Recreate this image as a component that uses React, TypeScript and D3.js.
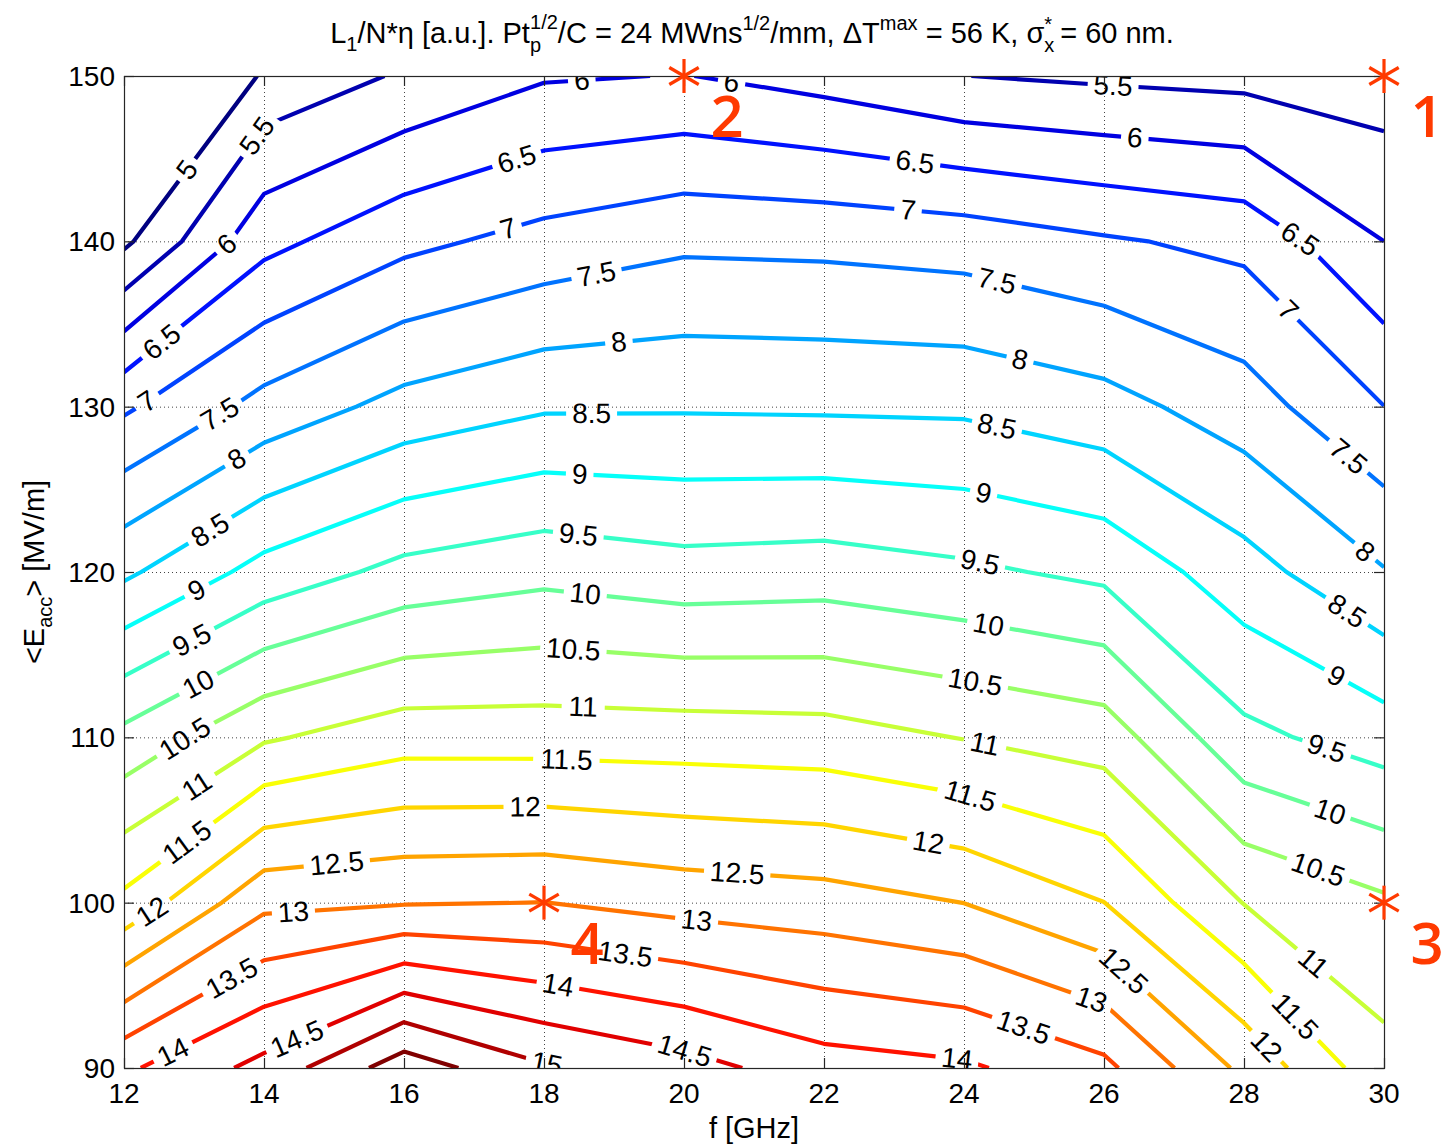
import React from 'react';
import * as d3 from 'd3';

type Pt = [number, number];

// ---------- data ----------
const freqGHz = [12, 14, 16, 18, 20, 22, 24, 26, 28, 30];
const fieldMVm = [90, 100, 110, 120, 130, 140, 150];
// L1/N*eta values on the (f, <Eacc>) grid, one array per field row
const zAt90 = [13.91, 14.66, 15.78, 15.06, 14.7, 14.22, 14.08, 13.63, 12.38, 11.16];
const zAt100 = [11.625, 12.88, 12.965, 13.005, 12.815, 12.715, 12.495, 12.005, 10.985, 10.58];
const zAt110 = [10.145, 10.935, 11.285, 11.275, 11.25, 11.205, 10.98, 10.77, 9.63, 9.26];
const zAt120 = [8.405, 9.18, 9.65, 9.85, 9.695, 9.75, 9.595, 9.385, 8.705, 8.03];
const zAt130 = [6.92, 7.67, 8.17, 8.44, 8.45, 8.43, 8.41, 8.19, 7.735, 7.005];
const zAt140 = [4.9, 6.35, 6.87, 7.17, 7.4, 7.37, 7.28, 7.06, 6.87, 6.0];
const zAt150 = [2.5, 5.13, 5.56, 5.95, 6.016, 5.8, 5.505, 5.41, 5.34, 5.25];

const contourLevels = [5, 5.5, 6, 6.5, 7, 7.5, 8, 8.5, 9, 9.5, 10, 10.5, 11, 11.5, 12, 12.5, 13, 13.5, 14, 14.5, 15, 15.5];

// inline labels: level and frequency where the label sits on that contour
const labelLevels = [
  5, 5.5, 5.5, 6, 6, 6, 6, 6.5, 6.5, 6.5, 6.5, 7, 7, 7, 7, 7.5, 7.5, 7.5, 7.5,
  8, 8, 8, 8, 8.5, 8.5, 8.5, 8.5, 9, 9, 9, 9, 9.5, 9.5, 9.5, 9.5, 10, 10, 10, 10,
  10.5, 10.5, 10.5, 10.5, 11, 11, 11, 11, 11.5, 11.5, 11.5, 11.5, 12, 12, 12, 12,
  12.5, 12.5, 12.5, 13, 13, 13, 13.5, 13.5, 13.5, 14, 14, 14, 14.5, 14.5, 15,
];
const labelFreqs = [
  12.9, 13.9, 26.13, 13.47, 18.54, 20.68, 26.44, 12.54, 17.61, 23.3, 28.8, 12.33, 17.49, 23.2, 28.63, 13.37, 18.75, 24.47, 29.49,
  13.61, 19.07, 24.8, 29.73, 13.23, 18.68, 24.47, 29.47, 13.04, 18.51, 24.28, 29.32, 12.97, 18.49, 24.23, 29.18, 13.06, 18.59, 24.35, 29.23,
  12.87, 18.42, 24.16, 29.06, 13.04, 18.56, 24.3, 28.99, 12.9, 18.32, 24.09, 28.73, 12.4, 17.73, 23.49, 28.32,
  15.04, 20.76, 26.28, 14.42, 20.18, 25.82, 13.54, 19.16, 24.85, 12.7, 18.2, 23.9, 14.47, 20.01, 18.04,
];

const xTicks = [12, 14, 16, 18, 20, 22, 24, 26, 28, 30];
const yTicks = [90, 100, 110, 120, 130, 140, 150];

const markerFreqs = [30, 20, 30, 18];
const markerFields = [150, 150, 100, 100];
const markerNames = ['1', '2', '3', '4'];

const zGrid = [zAt90, zAt100, zAt110, zAt120, zAt130, zAt140, zAt150];

// ---------- contouring (marching squares, linear interpolation) ----------
function traceContour(level: number): Pt[][] {
  const nx = freqGHz.length;
  const ny = fieldMVm.length;
  const pts = new Map<string, Pt>();
  const adj = new Map<string, string[]>();
  const link = (a: string, b: string) => {
    if (!adj.has(a)) adj.set(a, []);
    if (!adj.has(b)) adj.set(b, []);
    adj.get(a)!.push(b);
    adj.get(b)!.push(a);
  };
  const cross = (key: string, fa: number, ea: number, za: number, fb: number, eb: number, zb: number) => {
    if ((za >= level) === (zb >= level)) return false;
    const t = (level - za) / (zb - za);
    pts.set(key, [fa + t * (fb - fa), ea + t * (eb - ea)]);
    return true;
  };
  for (let j = 0; j < ny - 1; j++) {
    for (let i = 0; i < nx - 1; i++) {
      const f0 = freqGHz[i], f1 = freqGHz[i + 1], e0 = fieldMVm[j], e1 = fieldMVm[j + 1];
      const z00 = zGrid[j][i], z10 = zGrid[j][i + 1], z11 = zGrid[j + 1][i + 1], z01 = zGrid[j + 1][i];
      const kB = `h${i}_${j}`, kR = `v${i + 1}_${j}`, kT = `h${i}_${j + 1}`, kL = `v${i}_${j}`;
      const cB = cross(kB, f0, e0, z00, f1, e0, z10);
      const cR = cross(kR, f1, e0, z10, f1, e1, z11);
      const cT = cross(kT, f0, e1, z01, f1, e1, z11);
      const cL = cross(kL, f0, e0, z00, f0, e1, z01);
      const hit: string[] = [];
      if (cB) hit.push(kB);
      if (cR) hit.push(kR);
      if (cT) hit.push(kT);
      if (cL) hit.push(kL);
      if (hit.length === 2) link(hit[0], hit[1]);
      else if (hit.length === 4) {
        const c = (z00 + z10 + z11 + z01) / 4;
        if ((c >= level) === (z00 >= level)) { link(kB, kR); link(kT, kL); }
        else { link(kL, kB); link(kR, kT); }
      }
    }
  }
  const used = new Set<string>();
  const walk = (start: string) => {
    const chain = [start];
    used.add(start);
    let cur = start;
    for (;;) {
      const nxt = (adj.get(cur) || []).find((n) => !used.has(n));
      if (!nxt) break;
      used.add(nxt);
      chain.push(nxt);
      cur = nxt;
    }
    return chain;
  };
  const polys: Pt[][] = [];
  for (const [k, ns] of adj) {
    if (ns.length === 1 && !used.has(k)) polys.push(walk(k).map((q) => pts.get(q)!));
  }
  for (const k of adj.keys()) {
    if (!used.has(k)) {
      const c = walk(k);
      c.push(c[0]);
      polys.push(c.map((q) => pts.get(q)!));
    }
  }
  return polys;
}

function jet(t: number): string {
  const c = (v: number) => Math.max(0, Math.min(1, v));
  const r = c(1.5 - Math.abs(4 * t - 3));
  const g = c(1.5 - Math.abs(4 * t - 2));
  const b = c(1.5 - Math.abs(4 * t - 1));
  return d3.rgb(r * 255, g * 255, b * 255).formatHex();
}

const FONT = '"Liberation Sans", Arial, Helvetica, sans-serif';

function textWidth(s: string, size: number) {
  let w = 0;
  for (const ch of s) w += ch === '.' ? 0.278 : 0.556;
  return w * size;
}

export default function App() {
  const W = 1445, H = 1146;
  const x = d3.scaleLinear().domain([12, 30]).range([124, 1384]);
  const y = d3.scaleLinear().domain([90, 150]).range([1068, 76]);
  const [x0, x1] = x.range();
  const [y0, y1] = [y(150), y(90)];

  const lvMin = contourLevels[0];
  const lvMax = contourLevels[contourLevels.length - 1];
  const contours = contourLevels.map((L) => ({
    L,
    color: jet((L - lvMin) / (lvMax - lvMin)),
    polys: traceContour(L),
  }));
  const byLevel = new Map(contours.map((c) => [c.L, c.polys]));
  const line = d3.line<Pt>().x((d) => x(d[0])).y((d) => y(d[1]));

  const labelSize = 28;
  const labels = labelLevels
    .map((L, k) => {
      const F = labelFreqs[k];
      const polys = byLevel.get(L) || [];
      for (const poly of polys) {
        for (let s = 0; s < poly.length - 1; s++) {
          const [fa, ea] = poly[s];
          const [fb, eb] = poly[s + 1];
          if (fa !== fb && (fa - F) * (fb - F) <= 0) {
            const t = (F - fa) / (fb - fa);
            const E = ea + t * (eb - ea);
            let ang = (Math.atan2(y(eb) - y(ea), x(fb) - x(fa)) * 180) / Math.PI;
            if (ang > 90) ang -= 180;
            if (ang < -90) ang += 180;
            const text = String(L);
            return { key: k, text, px: x(F), py: y(E), ang, w: textWidth(text, labelSize) };
          }
        }
      }
      return null;
    })
    .filter((d) => d !== null) as { key: number; text: string; px: number; py: number; ang: number; w: number }[];

  const starColor = '#ff3a00';
  const starR = 17;
  const starArms = [90, 30, -30];

  return (
    <svg
      width={W}
      height={H}
      viewBox={`0 0 ${W} ${H}`}
      style={{ position: 'absolute', left: 0, top: 0, display: 'block', background: '#fff' }}
      fontFamily={FONT}
    >
      <defs>
        <clipPath id="plotClip">
          <rect x={x0} y={y0} width={x1 - x0} height={y1 - y0} />
        </clipPath>
        <mask id="labelGaps" maskUnits="userSpaceOnUse" x={0} y={0} width={W} height={H}>
          <rect x={0} y={0} width={W} height={H} fill="#fff" />
          {labels.map((d) => (
            <rect
              key={d.key}
              x={-d.w / 2 - 6}
              y={-13}
              width={d.w + 12}
              height={26}
              fill="#000"
              transform={`translate(${d.px},${d.py}) rotate(${d.ang})`}
            />
          ))}
        </mask>
      </defs>
      <rect x={0} y={0} width={W} height={H} fill="#fff" />

      {/* grid */}
      <g stroke="#444" strokeWidth={1} strokeDasharray="1,3">
        {xTicks.slice(1, -1).map((t) => (
          <line key={'gx' + t} x1={x(t) + 0.5} x2={x(t) + 0.5} y1={y0} y2={y1} />
        ))}
        {yTicks.slice(1, -1).map((t) => (
          <line key={'gy' + t} x1={x0} x2={x1} y1={y(t) + 0.5} y2={y(t) + 0.5} />
        ))}
      </g>

      {/* contour lines */}
      <g clipPath="url(#plotClip)">
        <g mask="url(#labelGaps)" fill="none" strokeWidth={4.2} strokeLinejoin="round">
          {contours.map((c) =>
            c.polys.map((p, i) => <path key={c.L + '_' + i} d={line(p) || ''} stroke={c.color} />)
          )}
        </g>
        {labels.map((d) => (
          <text
            key={'t' + d.key}
            transform={`translate(${d.px},${d.py}) rotate(${d.ang})`}
            textAnchor="middle"
            dominantBaseline="central"
            fontSize={labelSize}
            fill="#000"
          >
            {d.text}
          </text>
        ))}
      </g>

      {/* axes box and ticks */}
      <g stroke="#262626" strokeWidth={1.2} fill="none">
        <rect x={x0 + 0.5} y={y0 + 0.5} width={x1 - x0} height={y1 - y0} />
        {xTicks.map((t) => (
          <g key={'tx' + t}>
            <line x1={x(t) + 0.5} x2={x(t) + 0.5} y1={y1} y2={y1 - 10} />
            <line x1={x(t) + 0.5} x2={x(t) + 0.5} y1={y0} y2={y0 + 10} />
          </g>
        ))}
        {yTicks.map((t) => (
          <g key={'ty' + t}>
            <line x1={x0} x2={x0 + 10} y1={y(t) + 0.5} y2={y(t) + 0.5} />
            <line x1={x1} x2={x1 - 10} y1={y(t) + 0.5} y2={y(t) + 0.5} />
          </g>
        ))}
      </g>

      {/* tick labels */}
      <g fontSize={28} fill="#000">
        {xTicks.map((t) => (
          <text key={'lx' + t} x={x(t)} y={y1 + 35} textAnchor="middle">
            {t}
          </text>
        ))}
        {yTicks.map((t) => (
          <text key={'ly' + t} x={x0 - 9} y={y(t) + 10} textAnchor="end">
            {t}
          </text>
        ))}
      </g>

      {/* axis labels */}
      <text x={(x0 + x1) / 2} y={1138} textAnchor="middle" fontSize={29}>
        f [GHz]
      </text>
      <text transform={`translate(44,${(y0 + y1) / 2}) rotate(-90)`} textAnchor="middle" fontSize={29}>
        {'<E'}
        <tspan dy={8} fontSize={20}>
          acc
        </tspan>
        <tspan dy={-8}>{'> [MV/m]'}</tspan>
      </text>

      {/* title */}
      <text x={752} y={43} textAnchor="middle" fontSize={29}>
        L
        <tspan dy={8} fontSize={20}>1</tspan>
        <tspan dy={-8}>/N*η [a.u.]. Pt</tspan>
        <tspan dy={9} fontSize={20}>p</tspan>
        <tspan dx={-11} dy={-23} fontSize={20}>1/2</tspan>
        <tspan dy={14}>/C = 24 MWns</tspan>
        <tspan dy={-13} fontSize={20}>1/2</tspan>
        <tspan dy={13}>/mm, ΔT</tspan>
        <tspan dy={-13} fontSize={20}>max</tspan>
        <tspan dy={13}> = 56 K, σ</tspan>
        <tspan dy={9} fontSize={20}>x</tspan>
        <tspan dx={-10} dy={-21} fontSize={20}>*</tspan>
        <tspan dy={12}> = 60 nm.</tspan>
      </text>

      {/* markers */}
      {markerNames.map((name, k) => {
        const mx = x(markerFreqs[k]);
        const my = y(markerFields[k]);
        return (
          <g key={'m' + name}>
            <g stroke={starColor} strokeWidth={3.2}>
              {starArms.map((a) => {
                const r = (a * Math.PI) / 180;
                const dx = starR * Math.cos(r);
                const dy = starR * Math.sin(r);
                return <line key={a} x1={mx - dx} y1={my - dy} x2={mx + dx} y2={my + dy} />;
              })}
            </g>
            <text
              x={mx + 43}
              y={my + 61}
              textAnchor="middle"
              fontSize={58}
              fontWeight={600}
              fontFamily='"Open Sans", "Noto Sans", sans-serif'
              fill={starColor}
            >
              {name}
            </text>
          </g>
        );
      })}
    </svg>
  );
}
